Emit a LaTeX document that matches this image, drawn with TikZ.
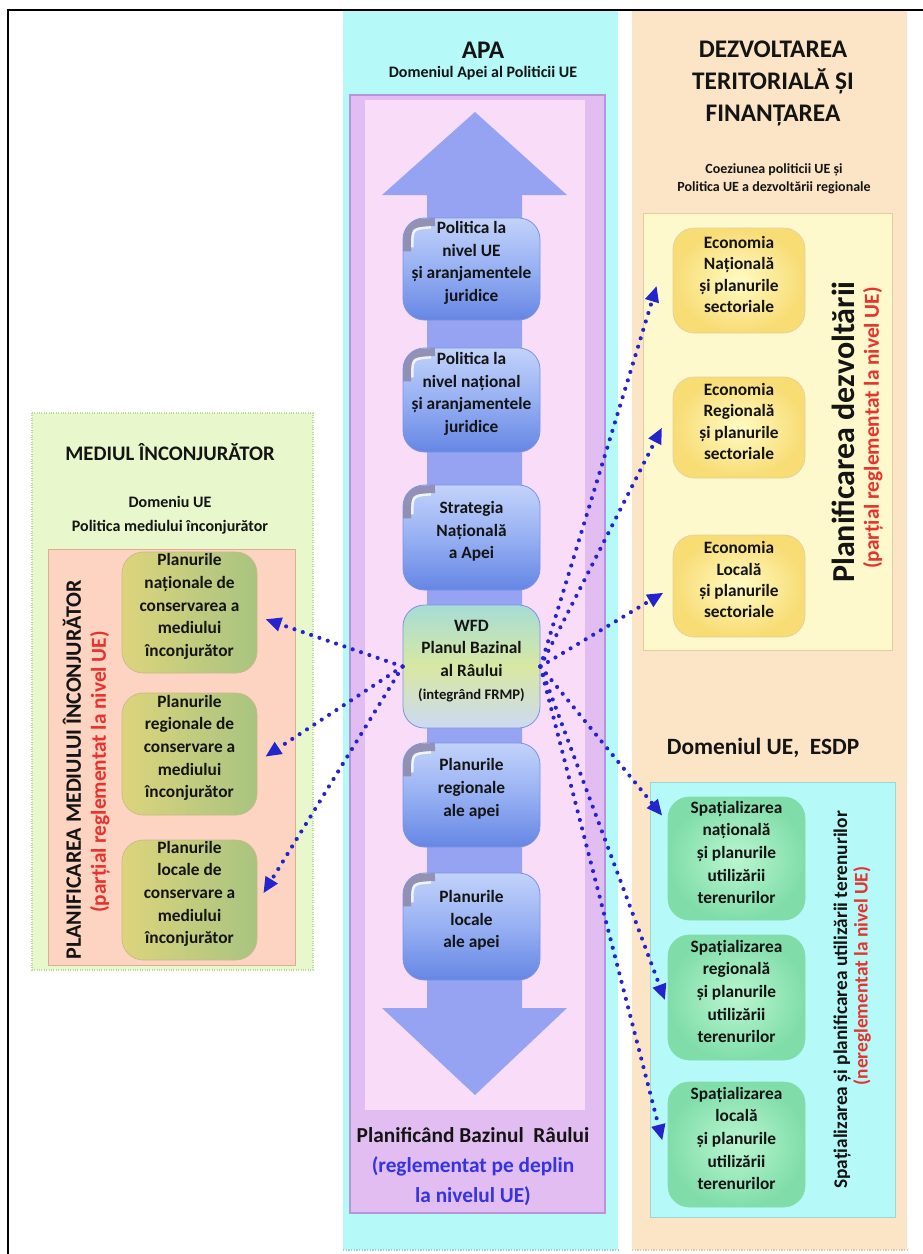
\documentclass[tikz,border=0pt]{standalone}
\usepackage{fontspec}
\setmainfont{Carlito}
\usetikzlibrary{arrows.meta,fit}
\definecolor{cyanbg}{HTML}{B6F9F9}
\definecolor{cyanline}{HTML}{9ED6D6}
\definecolor{peachbg}{HTML}{FCE5C6}
\definecolor{peachline}{HTML}{E8C8A0}
\definecolor{purpout}{HTML}{E2BDF2}
\definecolor{purpline}{HTML}{B596DC}
\definecolor{pinkin}{HTML}{F9DDF8}
\definecolor{arrowfill}{HTML}{96A3F3}
\definecolor{greenbg}{HTML}{E8F8CC}
\definecolor{greenline}{HTML}{BCD89A}
\definecolor{salmonbg}{HTML}{FDD3C2}
\definecolor{salmonline}{HTML}{D9B08E}
\definecolor{yellowbg}{HTML}{FEF9CC}
\definecolor{yellowline}{HTML}{E2CFA4}
\definecolor{dotblue}{HTML}{2424CC}
\definecolor{redtxt}{HTML}{E8322C}
\definecolor{bluetxt}{HTML}{3434E0}
\definecolor{txt}{HTML}{141414}
\definecolor{cboxtop}{HTML}{C2D2FA}
\definecolor{cboxmid}{HTML}{97B0F3}
\definecolor{cboxbot}{HTML}{6586E4}
\definecolor{cboxline}{HTML}{7D93E2}
\definecolor{wfdtop}{HTML}{A6DCD6}
\definecolor{wfdmid}{HTML}{D8E8A2}
\definecolor{wfdbot}{HTML}{CDD9F2}
\definecolor{lboxL}{HTML}{DDD47C}
\definecolor{lboxR}{HTML}{A8C480}
\definecolor{lboxline}{HTML}{C8B88A}
\definecolor{yin}{HTML}{FFFBC4}
\definecolor{yout}{HTML}{F8DC74}
\definecolor{gin}{HTML}{BAF6D0}
\definecolor{gout}{HTML}{80DDAA}
\definecolor{curl}{HTML}{8C88A8}
\tikzset{
  base/.style={inner sep=0pt, align=center, text=txt, font=\bfseries\fontsize{13}{17}\selectfont},
  rbox/.style={base, rounded corners=16pt},
  cbox/.style={rbox, draw=cboxline, line width=0.6pt, top color=cboxtop, bottom color=cboxbot, middle color=cboxmid,
    path picture={
      \draw[curl, line width=6pt, opacity=0.85]
        ([xshift=3pt,yshift=-25pt]path picture bounding box.north west)
        .. controls ([xshift=3pt,yshift=-4pt]path picture bounding box.north west)
        .. ([xshift=24pt,yshift=-3pt]path picture bounding box.north west);
      \draw[white, line width=1.8pt, opacity=0.8]
        ([xshift=7pt,yshift=-22pt]path picture bounding box.north west)
        .. controls ([xshift=7pt,yshift=-8pt]path picture bounding box.north west)
        .. ([xshift=21pt,yshift=-7pt]path picture bounding box.north west);
    }},
  wfdbox/.style={rbox, draw=cboxline, line width=0.6pt, top color=wfdtop, bottom color=wfdbot, middle color=wfdmid},
  lbox/.style={rbox, draw=lboxline, line width=0.5pt, left color=lboxL, right color=lboxR},
  ybox/.style={rbox, draw=yellowline, line width=0.5pt, inner color=yin, outer color=yout, font=\bfseries\fontsize{13}{16}\selectfont},
  gbox/.style={rbox, draw=gout, line width=0.5pt, inner color=gin, outer color=gout},
  ttl/.style={inner sep=0pt, align=center, text=txt, font=\bfseries},
  conn/.style={draw=dotblue, line width=3.1pt, dash pattern=on 0pt off 6.6pt, line cap=round,
    -{Triangle[length=12pt,width=10pt]}},
}
\begin{document}
\begin{tikzpicture}[x=0.75pt,y=-0.75pt]
\useasboundingbox (0,0) rectangle (923,1254);
\fill[white] (0,0) rectangle (923,1254);
% frame
\draw[line width=1.5pt] (8,1254) -- (8,10) -- (923,10);
% columns
\fill[cyanbg] (343,11) rectangle (618,1250);
\draw[cyanline, densely dotted, line width=1pt] (343,1250) -- (618,1250);
\fill[peachbg] (632,11) rectangle (907,1250);
\draw[peachline, densely dotted, line width=1pt] (632,1250) -- (907,1250);
% center
\filldraw[fill=purpout, draw=purpline, line width=0.8pt] (350,95) rectangle (605,1213);
\fill[pinkin] (365,100) rectangle (585,1110);
\fill[arrowfill] (475,112) -- (567,195) -- (522,195) -- (522,1008) -- (567,1008) -- (475,1095)
  -- (382,1008) -- (427,1008) -- (427,195) -- (382,195) -- cycle;
% left
\filldraw[fill=greenbg, draw=greenline, densely dotted, line width=0.8pt] (32,413) rectangle (313,970);
\filldraw[fill=salmonbg, draw=salmonline, line width=0.6pt] (48,549) rectangle (295,965);
% right
\filldraw[fill=yellowbg, draw=yellowline, line width=0.6pt] (643,213) rectangle (892,650);
\filldraw[fill=cyanbg, draw=cyanline, line width=0.6pt] (650,782) rectangle (895,1217);

% titles
\node[ttl, font=\bfseries\fontsize{19}{24}\selectfont] (apa) at (483,50) {APA};
\node[ttl, font=\bfseries\fontsize{12}{14}\selectfont] (apasub) at (483,73) {Domeniul Apei al Politicii UE};
\node[ttl, font=\bfseries\fontsize{19}{24}\selectfont] (dez) at (773,83) {DEZVOLTAREA\\TERITORIALĂ ȘI\\FINANȚAREA};
\node[ttl, font=\bfseries\fontsize{10.5}{13.5}\selectfont] (dezsub) at (774,179) {Coeziunea politicii UE și\\Politica UE a dezvoltării regionale};
\node[ttl, font=\bfseries\fontsize{15.5}{19}\selectfont] (med) at (170,452) {MEDIUL ÎNCONJURĂTOR};
\node[ttl, font=\bfseries\fontsize{12}{18}\selectfont] (medsub) at (170,515) {Domeniu UE\\Politica mediului înconjurător};
\node[ttl, font=\bfseries\fontsize{17.5}{21}\selectfont] (esdp) at (763,748) {Domeniul UE,\ \ ESDP};
\node[ttl, font=\bfseries\fontsize{16}{22.5}\selectfont] (pbr) at (473,1167) {Planificând Bazinul\ \ Râului\\\textcolor{bluetxt}{(reglementat pe deplin}\\\textcolor{bluetxt}{la nivelul UE)}};

% vertical labels
\node[ttl, rotate=90, font=\bfseries\fontsize{16.5}{20}\selectfont] (pmi) at (72,770) {PLANIFICAREA MEDIULUI ÎNCONJURĂTOR};
\node[ttl, rotate=90, text=redtxt, font=\bfseries\fontsize{16}{20}\selectfont] (pmir) at (100,772) {(parțial reglementat la nivel UE)};
\node[ttl, rotate=90, font=\bfseries\fontsize{24}{28}\selectfont] (pdz) at (843,432) {Planificarea dezvoltării};
\node[ttl, rotate=90, text=redtxt, font=\bfseries\fontsize{16}{20}\selectfont] (pdzr) at (873,428) {(parțial reglementat la nivel UE)};
\node[ttl, rotate=90, font=\bfseries\fontsize{14.5}{18}\selectfont] (spt) at (842,1000) {Spațializarea și planificarea utilizării terenurilor};
\node[ttl, rotate=90, text=redtxt, font=\bfseries\fontsize{14.5}{18}\selectfont] (sptr) at (862,976) {(nereglementat la nivel UE)};

% center boxes
\node[cbox, fit={(403,218) (540,320)}] (c1) {Politica la\\nivel UE\\și aranjamentele\\juridice};
\node[cbox, fit={(403,348) (540,452)}] (c2) {Politica la\\nivel național\\și aranjamentele\\juridice};
\node[cbox, fit={(403,485) (540,590)}] (c3) {Strategia\\Națională\\a Apei};
\node[wfdbox, fit={(403,605) (540,728)}] (c4) {WFD\\Planul Bazinal\\al Râului\\{\fontsize{11}{16}\selectfont(integrând FRMP)}};
\node[cbox, fit={(403,743) (540,847)}] (c5) {Planurile\\regionale\\ale apei};
\node[cbox, fit={(403,873) (540,980)}] (c6) {Planurile\\locale\\ale apei};

% left boxes
\node[lbox, fit={(122,552) (257,673)}] (l1) {Planurile\\naționale de\\conservarea a\\mediului\\înconjurător};
\node[lbox, fit={(122,693) (257,815)}] (l2) {Planurile\\regionale de\\conservare a\\mediului\\înconjurător};
\node[lbox, fit={(122,840) (257,960)}] (l3) {Planurile\\locale de\\conservare a\\mediului\\înconjurător};

% right yellow
\node[ybox, fit={(673,228) (805,333)}] (y1) {Economia\\Națională\\și planurile\\sectoriale};
\node[ybox, fit={(673,377) (805,478)}] (y2) {Economia\\Regională\\și planurile\\sectoriale};
\node[ybox, fit={(673,535) (805,637)}] (y3) {Economia\\Locală\\și planurile\\sectoriale};

% right green
\node[gbox, fit={(668,797) (805,920)}] (g1) {Spațializarea\\națională\\și planurile\\utilizării\\terenurilor};
\node[gbox, fit={(668,935) (805,1060)}] (g2) {Spațializarea\\regională\\și planurile\\utilizării\\terenurilor};
\node[gbox, fit={(668,1082) (805,1207)}] (g3) {Spațializarea\\locală\\și planurile\\utilizării\\terenurilor};

% connectors
\draw[conn] (c4.west) -- ([xshift=6pt,yshift=-5pt]l1.east);
\draw[conn] (c4.west) -- ([xshift=6pt,yshift=-2pt]l2.east);
\draw[conn] (c4.west) -- ([xshift=4.5pt,yshift=5pt]l3.east);
\draw[conn] (c4.east) -- ([xshift=-12pt,yshift=-4pt]y1.west);
\draw[conn] (c4.east) -- ([xshift=-8pt]y2.west);
\draw[conn] (c4.east) -- ([xshift=-7pt,yshift=-5pt]y3.west);
\draw[conn] (c4.east) -- ([xshift=-4pt,yshift=32pt]g1.west);
\draw[conn] (c4.east) -- ([xshift=-2pt,yshift=-2pt]g2.west);
\draw[conn] (c4.east) -- ([xshift=-4pt,yshift=3pt]g3.west);
\end{tikzpicture}
\end{document}
